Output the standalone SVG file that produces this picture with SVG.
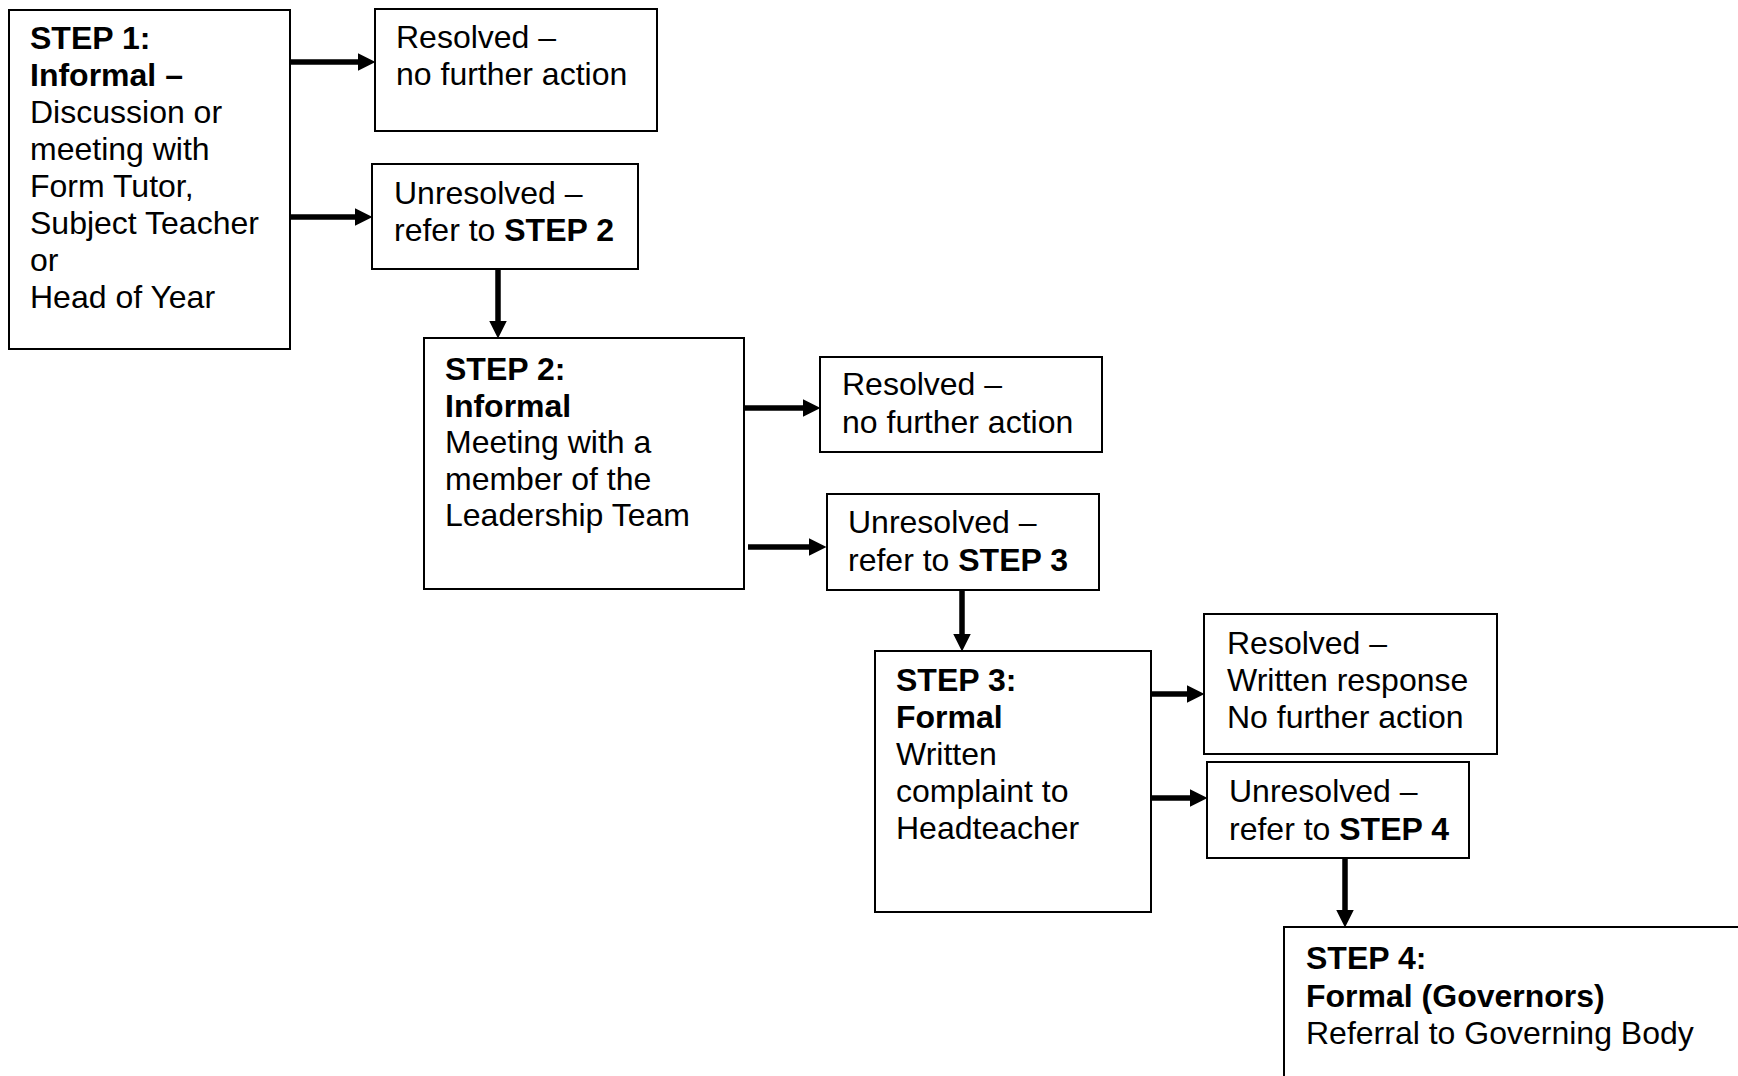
<svg xmlns="http://www.w3.org/2000/svg" width="1738" height="1076" viewBox="0 0 1738 1076">
<style>
.box{fill:#fff;stroke:#000;stroke-width:2}
text{font-family:"Liberation Sans",Arial,sans-serif;font-size:32px;fill:#000}
.b{font-weight:bold}
.conn{stroke:#000;stroke-width:5.5;fill:none;marker-end:url(#ah)}
</style>
<defs>
<marker id="ah" markerUnits="userSpaceOnUse" viewBox="0 0 18 18" refX="0.5" refY="9" markerWidth="18" markerHeight="18" orient="auto">
<path d="M0,0 L18,9 L0,18 Z" fill="#000"/>
</marker>
</defs>
<rect width="1738" height="1076" fill="#fff"/>
<g id="step1">
<rect class="box" x="9" y="10" width="281" height="339"/>
<text x="30" y="49"><tspan class="b">STEP 1:</tspan><tspan x="30" dy="37" class="b">Informal –</tspan><tspan x="30" dy="37">Discussion or</tspan><tspan x="30" dy="37">meeting with</tspan><tspan x="30" dy="37">Form Tutor,</tspan><tspan x="30" dy="37">Subject Teacher</tspan><tspan x="30" dy="37">or</tspan><tspan x="30" dy="37">Head of Year</tspan></text>
</g>
<g id="resolved1">
<rect class="box" x="375" y="9" width="282" height="122"/>
<text x="396" y="48">Resolved –<tspan x="396" dy="37">no further action</tspan></text>
</g>
<g id="unresolved1">
<rect class="box" x="372" y="164" width="266" height="105"/>
<text x="394" y="204">Unresolved –<tspan x="394" dy="37">refer to </tspan><tspan class="b">STEP 2</tspan></text>
</g>
<g id="step2">
<rect class="box" x="424" y="338" width="320" height="251"/>
<text x="445" y="380"><tspan class="b">STEP 2:</tspan><tspan x="445" dy="36.5" class="b">Informal</tspan><tspan x="445" dy="36.5">Meeting with a</tspan><tspan x="445" dy="36.5">member of the</tspan><tspan x="445" dy="36.5">Leadership Team</tspan></text>
</g>
<g id="resolved2">
<rect class="box" x="820" y="357" width="282" height="95"/>
<text x="842" y="395">Resolved –<tspan x="842" dy="37.5">no further action</tspan></text>
</g>
<g id="unresolved2">
<rect class="box" x="827" y="494" width="272" height="96"/>
<text x="848" y="533">Unresolved –<tspan x="848" dy="37.5">refer to </tspan><tspan class="b">STEP 3</tspan></text>
</g>
<g id="step3">
<rect class="box" x="875" y="651" width="276" height="261"/>
<text x="896" y="691"><tspan class="b">STEP 3:</tspan><tspan x="896" dy="37" class="b">Formal</tspan><tspan x="896" dy="37">Written</tspan><tspan x="896" dy="37">complaint to</tspan><tspan x="896" dy="37">Headteacher</tspan></text>
</g>
<g id="resolved3">
<rect class="box" x="1204" y="614" width="293" height="140"/>
<text x="1227" y="654">Resolved –<tspan x="1227" dy="37">Written response</tspan><tspan x="1227" dy="37">No further action</tspan></text>
</g>
<g id="unresolved3">
<rect class="box" x="1207" y="762" width="262" height="96"/>
<text x="1229" y="802">Unresolved –<tspan x="1229" dy="37.5">refer to </tspan><tspan class="b">STEP 4</tspan></text>
</g>
<g id="step4">
<rect class="box" x="1284" y="927" width="470" height="170"/>
<text x="1306" y="969"><tspan class="b">STEP 4:</tspan><tspan x="1306" dy="37.5" class="b">Formal (Governors)</tspan><tspan x="1306" dy="37.5">Referral to Governing Body</tspan></text>
</g>
<g id="connectors">
<line class="conn" x1="290" y1="62" x2="358" y2="62"/>
<line class="conn" x1="290" y1="217" x2="355" y2="217"/>
<line class="conn" x1="498" y1="269" x2="498" y2="321"/>
<line class="conn" x1="744" y1="408" x2="803" y2="408"/>
<line class="conn" x1="748" y1="547" x2="809" y2="547"/>
<line class="conn" x1="962" y1="591" x2="962" y2="634"/>
<line class="conn" x1="1151" y1="694" x2="1187" y2="694"/>
<line class="conn" x1="1151" y1="798" x2="1190" y2="798"/>
<line class="conn" x1="1345" y1="859" x2="1345" y2="910"/>
</g>
</svg>
